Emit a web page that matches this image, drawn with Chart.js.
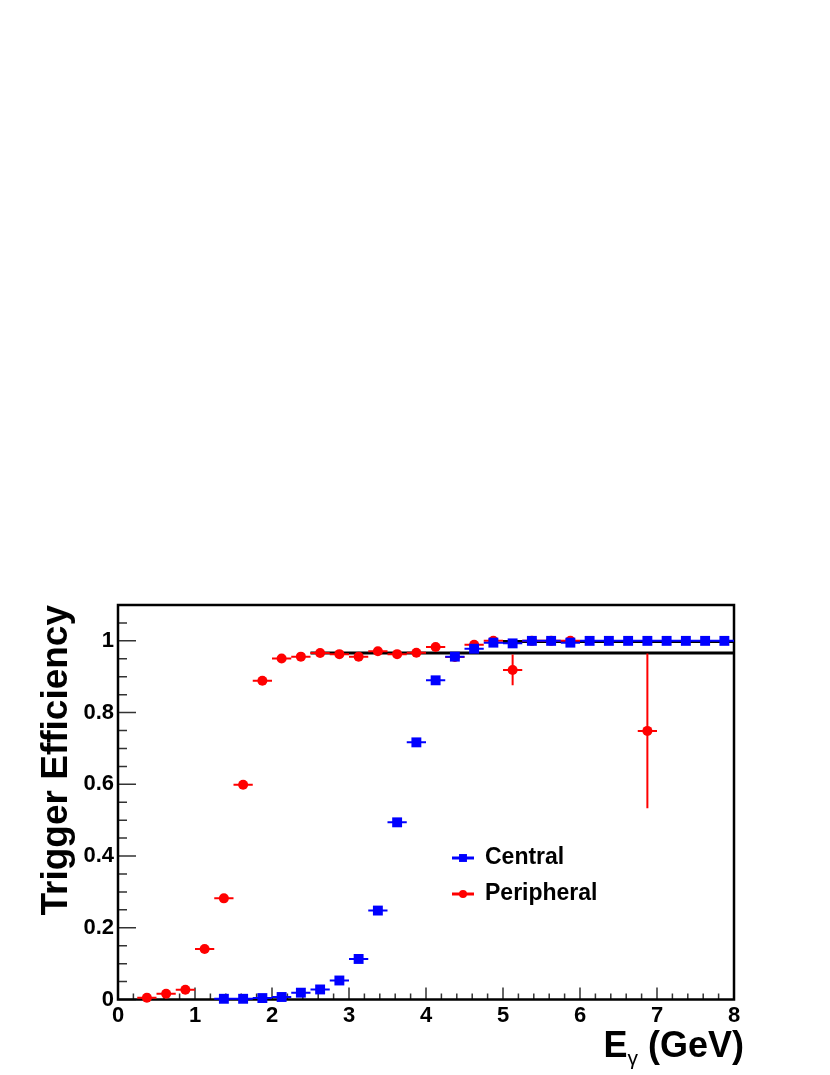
<!DOCTYPE html>
<html>
<head>
<meta charset="utf-8">
<script src="https://cdn.jsdelivr.net/npm/chart.js@4/dist/chart.umd.min.js"></script>
<style>
  html, body { margin: 0; padding: 0; background: #fff; }
  #chart { display: block; }
</style>
</head>
<body>
<canvas id="chart" width="830" height="1075"></canvas>
<script>
// Trigger efficiency vs photon energy, central and peripheral

const FONT = "'Liberation Sans', Arial, Helvetica, sans-serif";

// bin centres (GeV), efficiency and its error
const centralE = [1.375, 1.625, 1.875, 2.125, 2.375, 2.625, 2.875, 3.125, 3.375, 3.625,
  3.875, 4.125, 4.375, 4.625, 4.875, 5.125, 5.375, 5.625, 5.875, 6.125,
  6.375, 6.625, 6.875, 7.125, 7.375, 7.625, 7.875];
const centralEff = [0.002, 0.002, 0.004, 0.007, 0.019, 0.028, 0.053, 0.113, 0.248, 0.494,
  0.717, 0.890, 0.956, 0.978, 0.995, 0.993, 1.0, 1.0, 0.995, 1.0,
  1.0, 1.0, 1.0, 1.0, 1.0, 1.0, 1.0];
const centralErr = [0.001, 0.001, 0.002, 0.003, 0.004, 0.005, 0.006, 0.007, 0.008, 0.008,
  0.007, 0.006, 0.005, 0.004, 0.003, 0.003, 0, 0, 0.003, 0,
  0, 0, 0, 0, 0, 0, 0];

const peripheralE = [0.375, 0.625, 0.875, 1.125, 1.375, 1.625, 1.875, 2.125, 2.375, 2.625,
  2.875, 3.125, 3.375, 3.625, 3.875, 4.125, 4.375, 4.625, 4.875, 5.125,
  5.375, 5.625, 5.875, 6.875];
const peripheralEff = [0.005, 0.016, 0.027, 0.141, 0.282, 0.599, 0.889, 0.951, 0.956, 0.966,
  0.963, 0.956, 0.971, 0.963, 0.967, 0.983, 0.955, 0.989, 1.0, 0.919,
  1.0, 1.0, 1.0, 0.749];
const peripheralErr = [0.003, 0.004, 0.005, 0.008, 0.008, 0.008, 0.007, 0.005, 0.005, 0.005,
  0.006, 0.006, 0.006, 0.007, 0.007, 0.006, 0.012, 0.008, 0.004, 0.043,
  0, 0, 0, 0.216];

const BIN_HALF = 0.125;

// plateau fits
const centralFitE = [5, 8];
const centralFitEff = [0.998, 0.998];
const peripheralFitE = [2.5, 8];
const peripheralFitEff = [0.966, 0.966];

const xTicks = [0, 1, 2, 3, 4, 5, 6, 7, 8];
const yTicks = [0, 0.2, 0.4, 0.6, 0.8, 1];

function pairs(xs, ys) {
  return xs.map(function(x, i) { return { x: x, y: ys[i] }; });
}

// horizontal bin-width bars and vertical error bars, under each dataset's markers
const errorBars = {
  id: "errorBars",
  beforeDatasetDraw(chart, args) {
    const ds = chart.data.datasets[args.index];
    if (!ds.errY) return;
    const sx = chart.scales.x, sy = chart.scales.y, ctx = chart.ctx;
    ctx.save();
    ctx.strokeStyle = ds.borderColor;
    ctx.lineWidth = 2;
    ctx.beginPath();
    ds.data.forEach(function(p, i) {
      const px = sx.getPixelForValue(p.x), py = sy.getPixelForValue(p.y);
      ctx.moveTo(sx.getPixelForValue(p.x - ds.errX), py);
      ctx.lineTo(sx.getPixelForValue(p.x + ds.errX), py);
      const e = ds.errY[i];
      if (e > 0) {
        ctx.moveTo(px, sy.getPixelForValue(p.y + e));
        ctx.lineTo(px, sy.getPixelForValue(p.y - e));
      }
    });
    ctx.stroke();
    ctx.restore();
  }
};

// ROOT style frame with inward ticks
const frame = {
  id: "frame",
  beforeDatasetsDraw(chart) {
    const ctx = chart.ctx, a = chart.chartArea, sx = chart.scales.x, sy = chart.scales.y;
    ctx.save();
    ctx.strokeStyle = "#333";
    ctx.lineWidth = 1.5;
    ctx.beginPath();
    for (let i = 0; i <= 40; i++) {
      const px = sx.getPixelForValue(i * 0.2);
      ctx.moveTo(px, a.bottom);
      ctx.lineTo(px, a.bottom - (i % 5 === 0 ? 12 : 6));
    }
    for (let i = 0; i <= 22; i++) {
      const py = sy.getPixelForValue(i * 0.05);
      ctx.moveTo(a.left, py);
      ctx.lineTo(a.left + (i % 4 === 0 ? 18 : 9), py);
    }
    ctx.stroke();
    ctx.strokeStyle = "#000";
    ctx.lineWidth = 2.5;
    ctx.strokeRect(a.left, a.top, a.right - a.left, a.bottom - a.top);
    ctx.restore();
  }
};

function drawMarker(ctx, style, r, x, y) {
  ctx.beginPath();
  if (style === "rect") {
    const h = r * Math.SQRT1_2;
    ctx.rect(x - h, y - h, 2 * h, 2 * h);
  } else {
    ctx.arc(x, y, r, 0, Math.PI * 2);
  }
  ctx.fill();
}

const legendBox = {
  id: "legendBox",
  afterDraw(chart) {
    const ctx = chart.ctx;
    const rows = chart.data.datasets.filter(function(d) { return d.inLegend; });
    ctx.save();
    rows.forEach(function(ds, i) {
      const y = 858 + i * 36;
      ctx.strokeStyle = ds.borderColor;
      ctx.fillStyle = ds.backgroundColor;
      ctx.lineWidth = 3;
      ctx.beginPath();
      ctx.moveTo(452, y);
      ctx.lineTo(474, y);
      ctx.stroke();
      drawMarker(ctx, ds.pointStyle, ds.pointRadius * 0.8, 463, y);
      ctx.fillStyle = "#000";
      ctx.font = "bold 23px " + FONT;
      ctx.textBaseline = "middle";
      ctx.textAlign = "left";
      ctx.fillText(ds.label, 485, y);
    });
    ctx.restore();
  }
};

// x title with a subscript gamma
const xTitle = {
  id: "xTitle",
  afterDraw(chart) {
    const ctx = chart.ctx;
    const big = "bold 36px " + FONT, small = "21px " + FONT;
    ctx.save();
    ctx.fillStyle = "#000";
    ctx.textBaseline = "alphabetic";
    ctx.textAlign = "left";
    ctx.font = big;
    const wE = ctx.measureText("E").width, wRest = ctx.measureText(" (GeV)").width;
    ctx.font = small;
    const wG = ctx.measureText("\u03b3").width;
    let x = 744 - (wE + wG + wRest);
    const base = 1057;
    ctx.font = big;
    ctx.fillText("E", x, base);
    x += wE;
    ctx.font = small;
    ctx.fillText("\u03b3", x, base + 8);
    x += wG;
    ctx.font = big;
    ctx.fillText(" (GeV)", x, base);
    ctx.restore();
  }
};

const tickFont = { family: FONT, weight: "bold", size: 22 };

new Chart(document.getElementById("chart"), {
  type: "scatter",
  data: {
    datasets: [
      {
        label: "Central",
        inLegend: true,
        data: pairs(centralE, centralEff),
        errX: BIN_HALF,
        errY: centralErr,
        borderColor: "#0000ff",
        backgroundColor: "#0000ff",
        pointStyle: "rect",
        pointRadius: 7,
        pointBorderWidth: 0,
        order: 0,
        clip: false,
      },
      {
        label: "Peripheral",
        inLegend: true,
        data: pairs(peripheralE, peripheralEff),
        errX: BIN_HALF,
        errY: peripheralErr,
        borderColor: "#ff0000",
        backgroundColor: "#ff0000",
        pointStyle: "circle",
        pointRadius: 5,
        pointBorderWidth: 0,
        order: 1,
        clip: false,
      },
      {
        label: "central fit",
        data: pairs(centralFitE, centralFitEff),
        showLine: true,
        borderColor: "#000",
        borderWidth: 3,
        pointRadius: 0,
        order: 2,
        clip: false,
      },
      {
        label: "peripheral fit",
        data: pairs(peripheralFitE, peripheralFitEff),
        showLine: true,
        borderColor: "#000",
        borderWidth: 3,
        pointRadius: 0,
        order: 2,
        clip: false,
      },
    ],
  },
  options: {
    responsive: false,
    animation: false,
    devicePixelRatio: 1,
    layout: { padding: { top: 605, right: 96, left: 0, bottom: 0 } },
    plugins: {
      legend: { display: false },
      tooltip: { enabled: false },
    },
    scales: {
      x: {
        type: "linear",
        min: 0,
        max: 8,
        grid: { display: false, drawTicks: false },
        border: { display: false },
        afterBuildTicks: function(s) { s.ticks = xTicks.map(function(v) { return { value: v }; }); },
        afterFit: function(s) { s.height = 75.5; },
        ticks: {
          font: tickFont,
          color: "#000",
          padding: 3,
          maxRotation: 0,
          autoSkip: false,
          callback: function(v) { return String(v); },
        },
      },
      y: {
        type: "linear",
        min: 0,
        max: 1.1,
        grid: { display: false, drawTicks: false },
        border: { display: false },
        afterBuildTicks: function(s) { s.ticks = yTicks.map(function(v) { return { value: v }; }); },
        afterFit: function(s) { s.width = 118; },
        ticks: {
          font: tickFont,
          color: "#000",
          padding: 4,
          autoSkip: false,
          callback: function(v) { return String(v); },
        },
        title: {
          display: true,
          text: "Trigger Efficiency",
          align: "end",
          color: "#000",
          font: { family: FONT, weight: "bold", size: 37, lineHeight: 1.2 },
          padding: { top: 35, bottom: 0 },
        },
      },
    },
  },
  plugins: [frame, errorBars, legendBox, xTitle],
});
</script>
</body>
</html>
